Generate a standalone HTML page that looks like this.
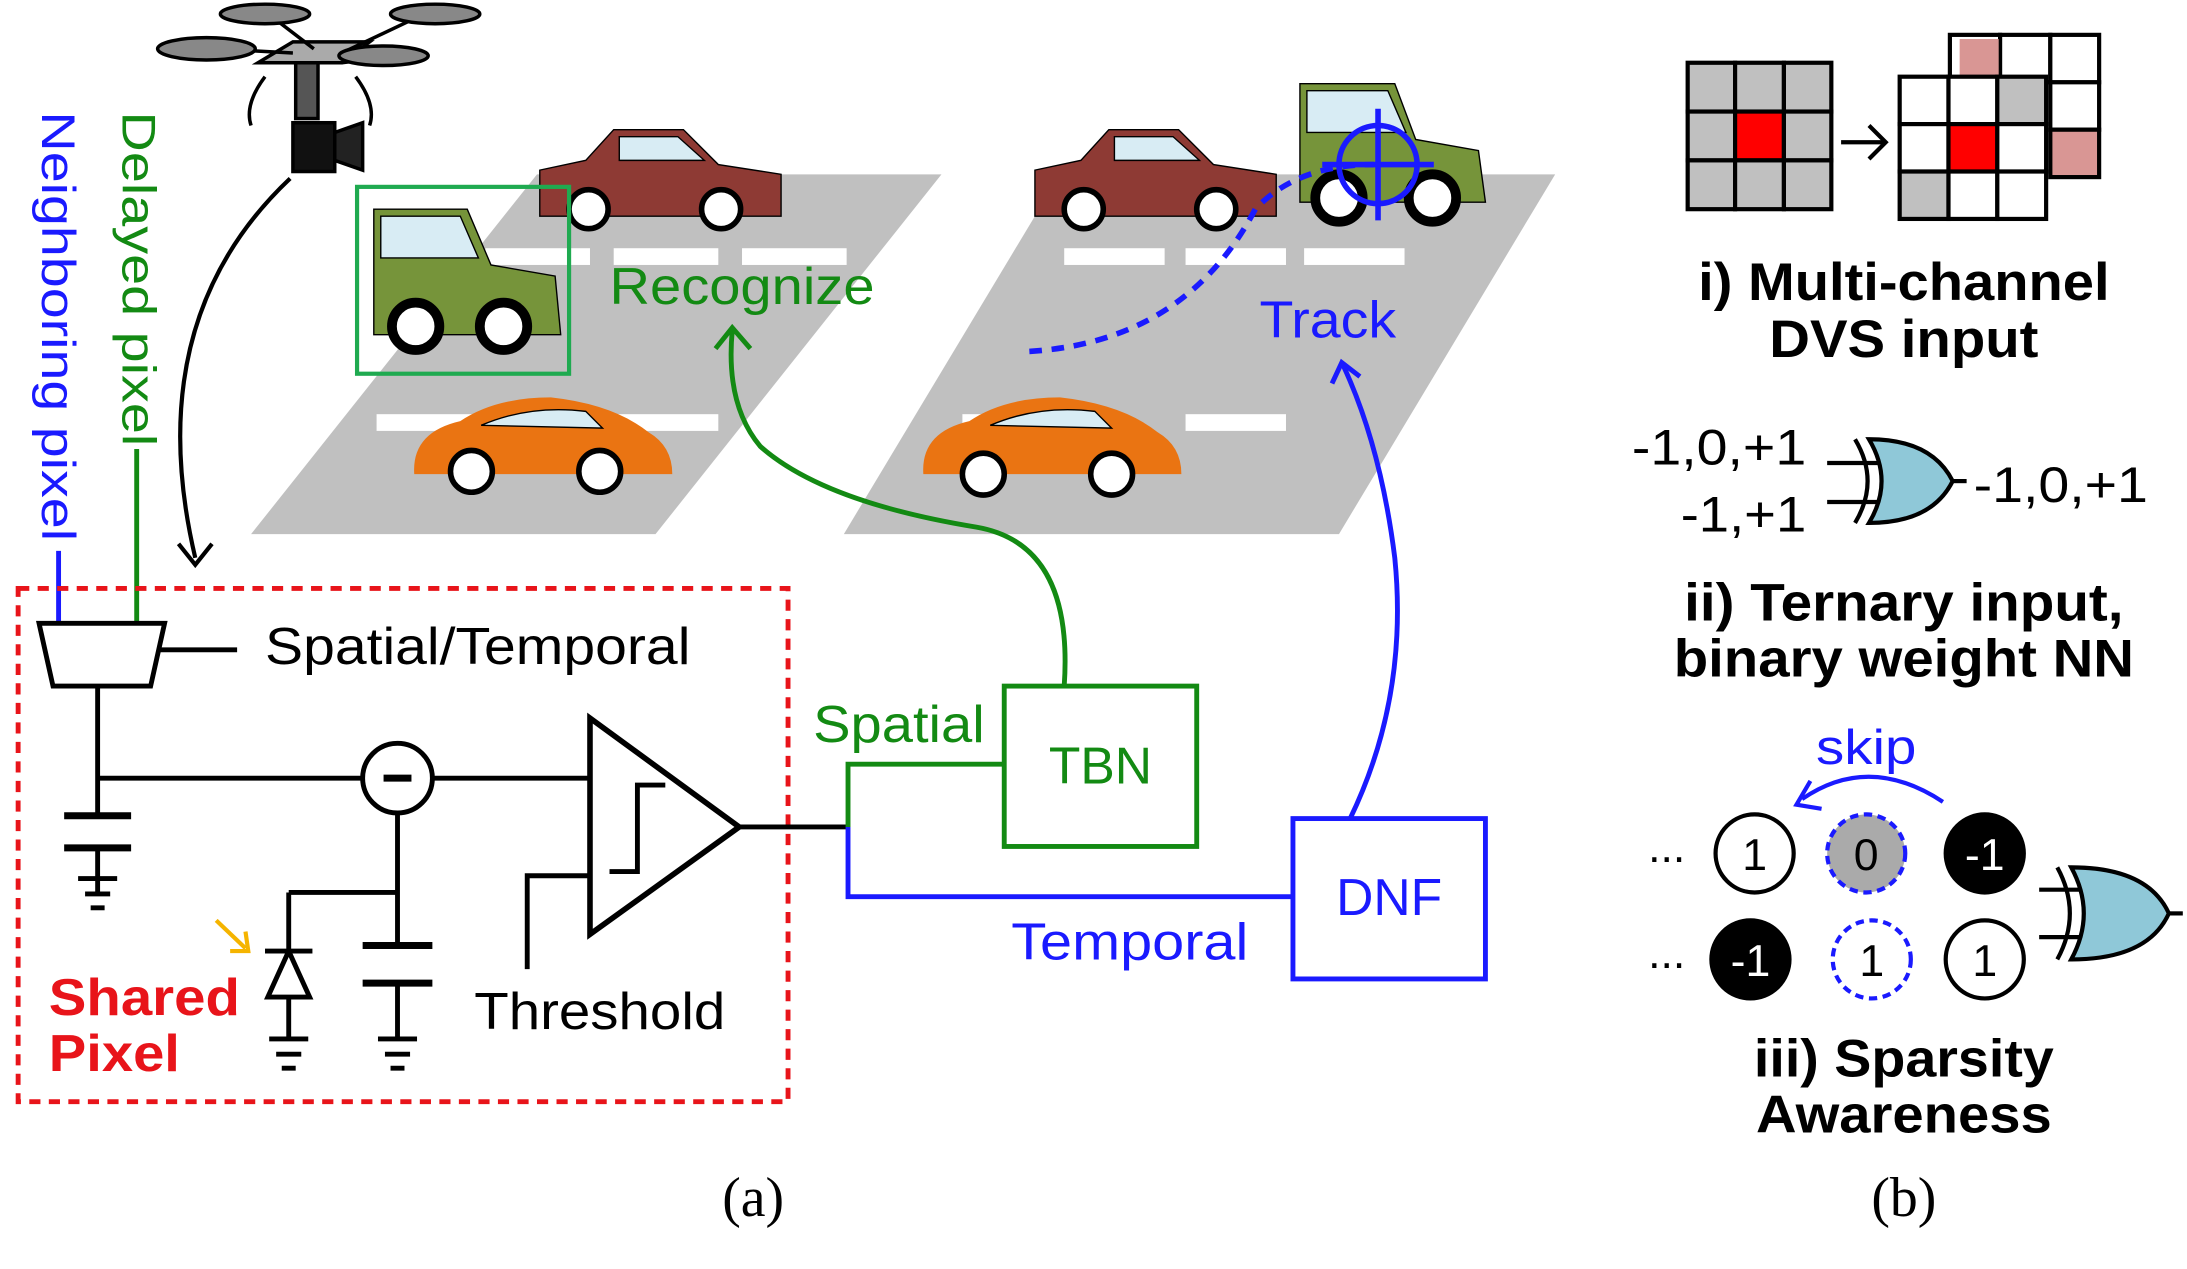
<!DOCTYPE html>
<html><head><meta charset="utf-8"><style>html,body{margin:0;padding:0;background:#fff}svg{display:block}</style></head><body>
<svg width="2187" height="1269" viewBox="0 0 1568 910" preserveAspectRatio="none" xmlns="http://www.w3.org/2000/svg" font-family="Liberation Sans, sans-serif">
<defs>
<marker id="ab" markerWidth="10" markerHeight="10" refX="5" refY="5" orient="auto" markerUnits="userSpaceOnUse" viewBox="0 0 10 10"><path d="M0,0 L5,5 L0,10" fill="none" stroke="#000" stroke-width="1.5"/></marker>
</defs>
<!-- roads -->
<polygon points="385,125 675,125 470,383 180,383" fill="#c0c0c0"/>
<polygon points="760,125 1115,125 960,383 605,383" fill="#c0c0c0"/>
<g fill="#fff">
<rect x="348" y="178" width="75" height="12"/><rect x="440" y="178" width="75" height="12"/><rect x="532" y="178" width="75" height="12"/>
<rect x="270" y="297" width="75" height="12"/><rect x="440" y="297" width="75" height="12"/>
<rect x="763" y="178" width="72" height="12"/><rect x="850" y="178" width="72" height="12"/><rect x="935" y="178" width="72" height="12"/>
<rect x="690" y="297" width="72" height="12"/><rect x="850" y="297" width="72" height="12"/>
</g>
<!-- cars -->
<g stroke="#000" stroke-width="1">
<path d="M387,155 L387,122 L420,115 L440,93 L490,93 L515,118 L560,125 L560,155 Z" fill="#8e3a34"/>
<path d="M444,98 L486,98 L505,115 L444,115Z" fill="#d8ecf4"/>
<circle cx="422" cy="150" r="14" fill="#fff" stroke-width="4"/><circle cx="517" cy="150" r="14" fill="#fff" stroke-width="4"/>
<path d="M742,155 L742,122 L775,115 L795,93 L845,93 L870,118 L915,125 L915,155 Z" fill="#8e3a34"/>
<path d="M799,98 L841,98 L860,115 L799,115Z" fill="#d8ecf4"/>
<circle cx="777" cy="150" r="14" fill="#fff" stroke-width="4"/><circle cx="872" cy="150" r="14" fill="#fff" stroke-width="4"/>
<path d="M268,240 L268,150 L335,150 L352,190 L398,198 L402,240 Z" fill="#76943a"/>
<path d="M273,155 L330,155 L343,185 L273,185Z" fill="#d8ecf4"/>
<circle cx="298" cy="234" r="17" fill="#fff" stroke-width="7"/><circle cx="361" cy="234" r="17" fill="#fff" stroke-width="7"/>
<path d="M932,145 L932,60 L1000,60 L1015,100 L1060,108 L1065,145 Z" fill="#76943a"/>
<path d="M937,65 L995,65 L1008,95 L937,95Z" fill="#d8ecf4"/>
<circle cx="960" cy="142" r="17" fill="#fff" stroke-width="7"/><circle cx="1027" cy="142" r="17" fill="#fff" stroke-width="7"/>
<path d="M297,340 Q295,310 330,302 Q355,285 395,285 Q440,290 465,310 Q482,320 482,340 Z" fill="#ea7412" stroke="none"/>
<path d="M345,305 Q380,290 420,295 L432,307 Z" fill="#d8ecf4"/>
<circle cx="338" cy="338" r="15" fill="#fff" stroke-width="4"/><circle cx="430" cy="338" r="15" fill="#fff" stroke-width="4"/>
<path d="M662,340 Q660,310 695,302 Q720,285 760,285 Q805,290 830,310 Q847,320 847,340 Z" fill="#ea7412" stroke="none"/>
<path d="M710,305 Q745,290 785,295 L797,307 Z" fill="#d8ecf4"/>
<circle cx="705" cy="340" r="15" fill="#fff" stroke-width="4"/><circle cx="797" cy="340" r="15" fill="#fff" stroke-width="4"/>
</g>
<rect x="256" y="134" width="152" height="134" fill="none" stroke="#1faa50" stroke-width="3"/>
<!-- crosshair -->
<g stroke="#1a1aff" stroke-width="4" fill="none">
<circle cx="988" cy="118" r="28"/><line x1="988" y1="78" x2="988" y2="158"/><line x1="948" y1="118" x2="1028" y2="118"/>
<path d="M738,252 Q850,245 900,150 Q930,118 985,118" stroke-dasharray="9,7"/>
</g>
<text x="437" y="218" font-size="37" fill="#138a13" textLength="190" lengthAdjust="spacingAndGlyphs">Recognize</text>
<text x="903" y="242" font-size="37" fill="#1a1aff" textLength="98" lengthAdjust="spacingAndGlyphs">Track</text>
<!-- drone -->
<g stroke="#000" stroke-width="2.5" fill="#888">
<polygon points="185,45 245,45 265,30 210,30" fill="#aaa"/>
<line x1="155" y1="35" x2="210" y2="38"/><line x1="300" y1="12" x2="245" y2="38"/><line x1="195" y1="12" x2="225" y2="35"/><line x1="285" y1="40" x2="245" y2="45"/>
<ellipse cx="148" cy="35" rx="35" ry="8"/><ellipse cx="190" cy="10" rx="32" ry="7"/><ellipse cx="312" cy="10" rx="32" ry="7"/><ellipse cx="275" cy="40" rx="32" ry="7"/>
<rect x="212" y="45" width="16" height="40" fill="#555"/>
<rect x="210" y="88" width="30" height="35" fill="#111"/><polygon points="240,95 260,88 260,122 240,115" fill="#222"/>
<path d="M190,55 Q175,75 180,90" fill="none"/><path d="M255,55 Q270,75 265,90" fill="none"/>
</g>
<path d="M208,128 Q100,230 140,400" fill="none" stroke="#000" stroke-width="3"/>
<path d="M128,390 L140,405 L152,390" fill="none" stroke="#000" stroke-width="3"/>
<!-- vertical labels -->
<text transform="translate(30,80) rotate(90)" font-size="34" fill="#1a1aff" textLength="308" lengthAdjust="spacingAndGlyphs">Neighboring pixel</text>
<text transform="translate(88,80) rotate(90)" font-size="34" fill="#138a13" textLength="240" lengthAdjust="spacingAndGlyphs">Delayed pixel</text>
<line x1="42" y1="395" x2="42" y2="447" stroke="#1a1aff" stroke-width="3.5"/>
<line x1="98" y1="322" x2="98" y2="447" stroke="#138a13" stroke-width="3.5"/>
<!-- red dashed -->
<rect x="13" y="422" width="552" height="368" fill="none" stroke="#e8141a" stroke-width="3.5" stroke-dasharray="8,6"/>
<!-- circuit -->
<g stroke="#000" stroke-width="3.5" fill="none">
<polygon points="28,447 118,447 108,492 38,492" fill="#fff"/>
<line x1="115" y1="466" x2="170" y2="466"/>
<line x1="70" y1="492" x2="70" y2="583"/>
<line x1="70" y1="558" x2="260" y2="558"/><line x1="310" y1="558" x2="423" y2="558"/>
<circle cx="285" cy="558" r="25"/>
<line x1="275" y1="558" x2="295" y2="558" stroke-width="5"/>
<line x1="46" y1="585" x2="94" y2="585" stroke-width="5"/><line x1="46" y1="608" x2="94" y2="608" stroke-width="5"/>
<line x1="70" y1="608" x2="70" y2="640"/><line x1="56" y1="630" x2="84" y2="630"/><line x1="61" y1="641" x2="79" y2="641"/><line x1="65" y1="651" x2="75" y2="651"/>
<polygon points="423,515 423,670 530,593" stroke-width="4"/>
<path d="M437,625 L457,625 L457,563 L477,563"/>
<line x1="530" y1="593" x2="608" y2="593"/>
<path d="M378,695 L378,628 L423,628"/>
<line x1="285" y1="583" x2="285" y2="678"/>
<line x1="207" y1="640" x2="285" y2="640"/>
<line x1="207" y1="640" x2="207" y2="745"/>
<polygon points="192,715 222,715 207,682" fill="#fff"/><line x1="190" y1="682" x2="224" y2="682"/>
<line x1="193" y1="745" x2="221" y2="745"/><line x1="198" y1="756" x2="216" y2="756"/><line x1="202" y1="766" x2="212" y2="766"/>
<line x1="260" y1="678" x2="310" y2="678" stroke-width="5"/><line x1="260" y1="705" x2="310" y2="705" stroke-width="5"/>
<line x1="285" y1="705" x2="285" y2="745"/>
<line x1="271" y1="745" x2="299" y2="745"/><line x1="276" y1="756" x2="294" y2="756"/><line x1="280" y1="766" x2="290" y2="766"/>
</g>
<line x1="155" y1="660" x2="176" y2="680" stroke="#f5b400" stroke-width="3"/><path d="M165,682 L178,682 L176,668" fill="none" stroke="#f5b400" stroke-width="3"/>
<text x="190" y="476" font-size="37" textLength="305" lengthAdjust="spacingAndGlyphs">Spatial/Temporal</text>
<text x="340" y="738" font-size="37" textLength="180" lengthAdjust="spacingAndGlyphs">Threshold</text>
<text x="35" y="728" font-size="37" font-weight="bold" fill="#e8141a" textLength="137" lengthAdjust="spacingAndGlyphs">Shared</text>
<text x="35" y="768" font-size="37" font-weight="bold" fill="#e8141a" textLength="94" lengthAdjust="spacingAndGlyphs">Pixel</text>
<!-- branches -->
<path d="M608,593 L608,548 L720,548" fill="none" stroke="#138a13" stroke-width="3.5"/>
<path d="M608,593 L608,643 L927,643" fill="none" stroke="#1a1aff" stroke-width="3.5"/>
<rect x="720" y="492" width="138" height="115" fill="#fff" stroke="#138a13" stroke-width="3.5"/>
<rect x="927" y="587" width="138" height="115" fill="#fff" stroke="#1a1aff" stroke-width="3.5"/>
<text x="789" y="562" font-size="37" fill="#138a13" text-anchor="middle">TBN</text>
<text x="996" y="656" font-size="37" fill="#1a1aff" text-anchor="middle">DNF</text>
<text x="583" y="532" font-size="37" fill="#138a13" textLength="123" lengthAdjust="spacingAndGlyphs">Spatial</text>
<text x="725" y="688" font-size="37" fill="#1a1aff" textLength="170" lengthAdjust="spacingAndGlyphs">Temporal</text>
<path d="M763,492 Q770,390 700,378 Q590,360 545,320 Q520,290 525,237" fill="none" stroke="#138a13" stroke-width="3.5"/>
<path d="M513,250 L525,235 L538,250" fill="none" stroke="#138a13" stroke-width="3.5"/>
<path d="M968,587 Q1010,500 1000,400 Q990,320 963,262" fill="none" stroke="#1a1aff" stroke-width="3.5"/>
<path d="M955,275 L962,260 L975,270" fill="none" stroke="#1a1aff" stroke-width="3.5"/>
<text x="540" y="872" font-size="40" font-family="Liberation Serif, serif" text-anchor="middle">(a)</text>
<text x="1365" y="872" font-size="40" font-family="Liberation Serif, serif" text-anchor="middle">(b)</text>
<!-- grids -->
<g stroke="#000" stroke-width="3">
<g fill="#c0c0c0">
<rect x="1210" y="45" width="34" height="35"/><rect x="1244" y="45" width="35" height="35"/><rect x="1279" y="45" width="34" height="35"/>
<rect x="1210" y="80" width="34" height="35"/><rect x="1244" y="80" width="35" height="35" fill="#f00"/><rect x="1279" y="80" width="34" height="35"/>
<rect x="1210" y="115" width="34" height="35"/><rect x="1244" y="115" width="35" height="35"/><rect x="1279" y="115" width="34" height="35"/>
</g>
<g fill="#fff">
<rect x="1398" y="25" width="36" height="34"/><rect x="1434" y="25" width="36" height="34"/><rect x="1470" y="25" width="35" height="34"/>
<rect x="1470" y="59" width="35" height="34"/><rect x="1470" y="93" width="35" height="34" fill="#d99694"/>
<rect x="1405" y="28" width="28" height="27" fill="#d99694" stroke="none"/>
<rect x="1362" y="55" width="35" height="34"/><rect x="1397" y="55" width="35" height="34"/><rect x="1432" y="55" width="35" height="34" fill="#c0c0c0"/>
<rect x="1362" y="89" width="35" height="34"/><rect x="1397" y="89" width="35" height="34" fill="#f00"/><rect x="1432" y="89" width="35" height="34"/>
<rect x="1362" y="123" width="35" height="34" fill="#c0c0c0"/><rect x="1397" y="123" width="35" height="34"/><rect x="1432" y="123" width="35" height="34"/>
</g>
<line x1="1320" y1="102" x2="1352" y2="102"/>
<path d="M1340,90 L1352,102 L1340,114" fill="none"/>
</g>
<g font-size="38" font-weight="bold" text-anchor="middle">
<text x="1365" y="215" textLength="295" lengthAdjust="spacingAndGlyphs">i) Multi-channel</text><text x="1365" y="256" textLength="193" lengthAdjust="spacingAndGlyphs">DVS input</text>
<text x="1365" y="445" textLength="315" lengthAdjust="spacingAndGlyphs">ii) Ternary input,</text><text x="1365" y="485" textLength="330" lengthAdjust="spacingAndGlyphs">binary weight NN</text>
<text x="1365" y="772" textLength="215" lengthAdjust="spacingAndGlyphs">iii) Sparsity</text><text x="1365" y="812" textLength="212" lengthAdjust="spacingAndGlyphs">Awareness</text>
</g>
<!-- xor gates -->
<g stroke="#000" stroke-width="3">
<path d="M1340,315 Q1385,315 1400,345 Q1385,375 1340,375 Q1358,345 1340,315Z" fill="#8fc8d8"/>
<path d="M1330,315 Q1348,345 1330,375" fill="none"/>
<line x1="1310" y1="332" x2="1347" y2="332"/><line x1="1310" y1="360" x2="1347" y2="360"/><line x1="1400" y1="345" x2="1410" y2="345"/>
<path d="M1485,622 Q1540,622 1555,655 Q1540,688 1485,688 Q1503,655 1485,622Z" fill="#8fc8d8"/>
<path d="M1475,622 Q1493,655 1475,688" fill="none"/>
<line x1="1462" y1="638" x2="1492" y2="638"/><line x1="1462" y1="672" x2="1492" y2="672"/><line x1="1555" y1="655" x2="1565" y2="655"/>
</g>
<g font-size="36">
<text x="1170" y="333" textLength="125" lengthAdjust="spacingAndGlyphs">-1,0,+1</text><text x="1205" y="381" textLength="90" lengthAdjust="spacingAndGlyphs">-1,+1</text><text x="1415" y="360" textLength="125" lengthAdjust="spacingAndGlyphs">-1,0,+1</text>
</g>
<text x="1338" y="548" font-size="35" fill="#1a1aff" text-anchor="middle" textLength="72" lengthAdjust="spacingAndGlyphs">skip</text>
<path d="M1393,575 Q1340,540 1292,573" fill="none" stroke="#1a1aff" stroke-width="3"/>
<path d="M1298,560 L1288,577 L1306,580" fill="none" stroke="#1a1aff" stroke-width="3"/>
<g stroke-width="3" font-size="32" text-anchor="middle">
<circle cx="1258" cy="612" r="28" fill="#fff" stroke="#000"/><text x="1258" y="624">1</text>
<circle cx="1338" cy="612" r="28" fill="#aaa" stroke="#1a1aff" stroke-dasharray="6,4"/><text x="1338" y="624">0</text>
<circle cx="1423" cy="612" r="28" fill="#000" stroke="#000"/><text x="1423" y="624" fill="#fff">-1</text>
<circle cx="1255" cy="688" r="28" fill="#000" stroke="#000"/><text x="1255" y="700" fill="#fff">-1</text>
<circle cx="1342" cy="688" r="28" fill="#fff" stroke="#1a1aff" stroke-dasharray="6,4"/><text x="1342" y="700">1</text>
<circle cx="1423" cy="688" r="28" fill="#fff" stroke="#000"/><text x="1423" y="700">1</text>
<text x="1195" y="618">...</text><text x="1195" y="694">...</text>
</g>
</svg>
</body></html>
